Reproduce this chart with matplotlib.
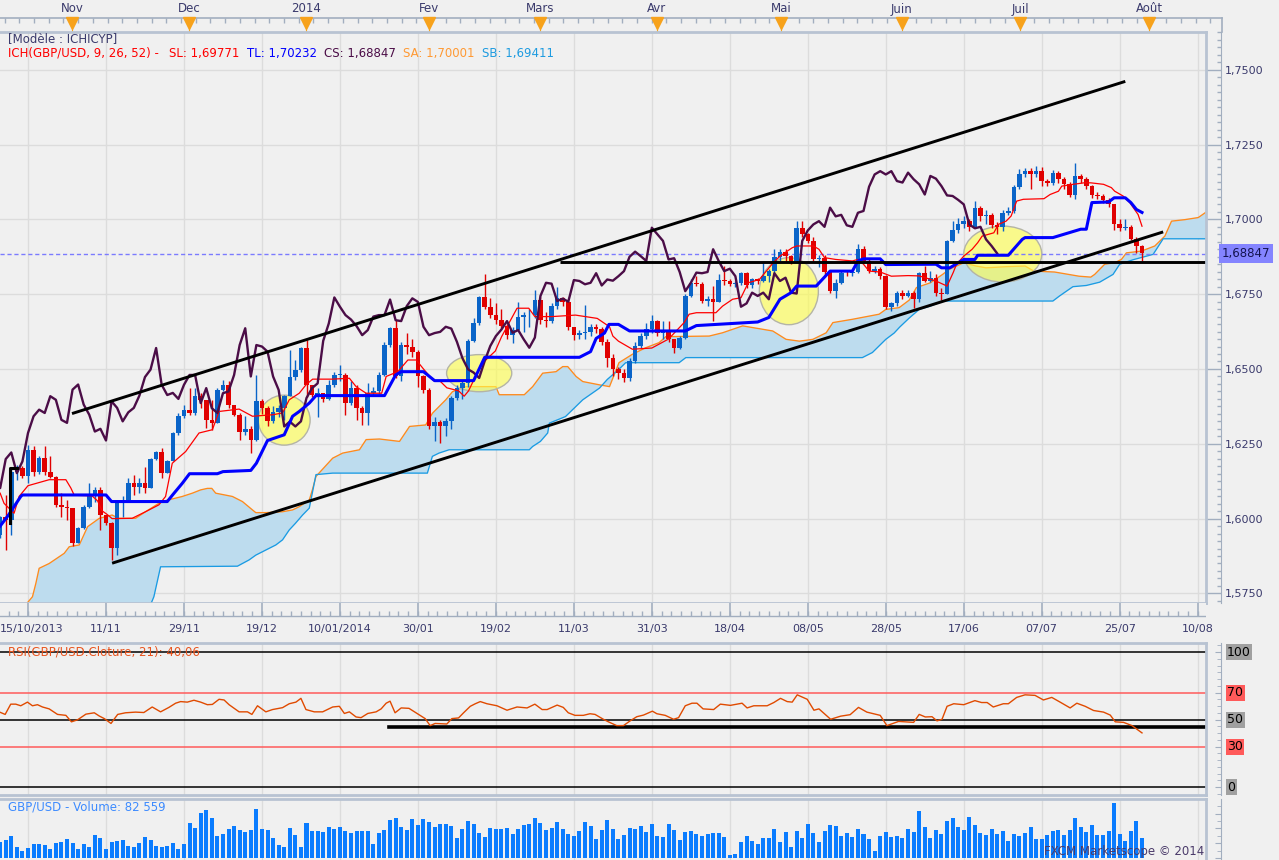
import numpy as np
import matplotlib
matplotlib.use("Agg")
import matplotlib.pyplot as plt
from matplotlib.patches import Ellipse
from matplotlib.ticker import MultipleLocator

plt.rcParams['font.family'] = ['DejaVu Sans']

# ---------------- data ----------------
# bar index 0 = first date grid line, 14 daily bars between date labels
first_bar = -5
first_open = 1.5945

close = [
    1.6007, 1.5996, 1.6157, 1.6169, 1.6143, 1.6230, 1.6157, 1.6202, 1.6157, 1.6139,
    1.6046, 1.6038, 1.6035, 1.5917, 1.5968, 1.6040, 1.6074, 1.6096, 1.6012, 1.5985,
    1.5901, 1.6057, 1.6062, 1.6118, 1.6107, 1.6118, 1.6102, 1.6199, 1.6221, 1.6152,
    1.6191, 1.6286, 1.6342, 1.6364, 1.6353, 1.6409, 1.6397, 1.6330, 1.6320, 1.6431,
    1.6448, 1.6381, 1.6347, 1.6291, 1.6300, 1.6261, 1.6392, 1.6370, 1.6325, 1.6355,
    1.6370, 1.6411, 1.6473, 1.6498, 1.6570, 1.6447, 1.6413, 1.6420, 1.6400, 1.6447,
    1.6480, 1.6480, 1.6386, 1.6436, 1.6369, 1.6353, 1.6419, 1.6425, 1.6480, 1.6580,
    1.6636, 1.6475, 1.6580, 1.6575, 1.6558, 1.6475, 1.6430, 1.6308, 1.6324, 1.6308,
    1.6325, 1.6403, 1.6436, 1.6452, 1.6594, 1.6652, 1.6739, 1.6708, 1.6680, 1.6665,
    1.6643, 1.6613, 1.6630, 1.6675, 1.6680, 1.6680, 1.6732, 1.6663, 1.6660, 1.6710,
    1.6736, 1.6724, 1.6641, 1.6613, 1.6620, 1.6624, 1.6641, 1.6635, 1.6591, 1.6536,
    1.6499, 1.6488, 1.6470, 1.6527, 1.6577, 1.6610, 1.6632, 1.6660, 1.6621, 1.6630,
    1.6599, 1.6571, 1.6605, 1.6744, 1.6788, 1.6785, 1.6727, 1.6735, 1.6725, 1.6797,
    1.6794, 1.6783, 1.6788, 1.6820, 1.6779, 1.6799, 1.6795, 1.6810, 1.6827, 1.6875,
    1.6892, 1.6877, 1.6861, 1.6972, 1.6950, 1.6928, 1.6866, 1.6870, 1.6824, 1.6760,
    1.6788, 1.6822, 1.6820, 1.6824, 1.6900, 1.6861, 1.6827, 1.6835, 1.6810, 1.6708,
    1.6719, 1.6755, 1.6744, 1.6755, 1.6733, 1.6820, 1.6794, 1.6805, 1.6755, 1.6752,
    1.6928, 1.6963, 1.6983, 1.6994, 1.6975, 1.7039, 1.7010, 1.7015, 1.6980, 1.6975,
    1.7022, 1.7028, 1.7109, 1.7150, 1.7161, 1.7150, 1.7161, 1.7128, 1.7123, 1.7156,
    1.7134, 1.7117, 1.7083, 1.7145, 1.7136, 1.7111, 1.7080, 1.7078, 1.7065, 1.7050,
    1.6983, 1.6970, 1.6975, 1.6933, 1.6911, 1.6886,
]
high = [
    1.6010, 1.6079, 1.6165, 1.6180, 1.6175, 1.6247, 1.6243, 1.6210, 1.6241, 1.6208,
    1.6141, 1.6085, 1.6062, 1.6035, 1.5973, 1.6046, 1.6118, 1.6107, 1.6107, 1.6012,
    1.5990, 1.6062, 1.6074, 1.6135, 1.6146, 1.6135, 1.6174, 1.6202, 1.6225, 1.6236,
    1.6197, 1.6290, 1.6353, 1.6381, 1.6436, 1.6436, 1.6420, 1.6397, 1.6397, 1.6436,
    1.6464, 1.6459, 1.6381, 1.6353, 1.6342, 1.6308, 1.6481, 1.6400, 1.6375, 1.6375,
    1.6380, 1.6414, 1.6565, 1.6531, 1.6575, 1.6598, 1.6447, 1.6435, 1.6420, 1.6463,
    1.6491, 1.6513, 1.6486, 1.6460, 1.6447, 1.6375, 1.6452, 1.6440, 1.6491, 1.6591,
    1.6641, 1.6663, 1.6590, 1.6619, 1.6600, 1.6564, 1.6480, 1.6436, 1.6341, 1.6330,
    1.6335, 1.6410, 1.6445, 1.6460, 1.6600, 1.6669, 1.6743, 1.6819, 1.6736, 1.6720,
    1.6700, 1.6650, 1.6640, 1.6725, 1.6690, 1.6700, 1.6763, 1.6740, 1.6690, 1.6720,
    1.6775, 1.6740, 1.6730, 1.6640, 1.6630, 1.6713, 1.6650, 1.6650, 1.6640, 1.6600,
    1.6550, 1.6505, 1.6500, 1.6535, 1.6590, 1.6620, 1.6655, 1.6682, 1.6665, 1.6660,
    1.6660, 1.6600, 1.6610, 1.6750, 1.6799, 1.6810, 1.6790, 1.6745, 1.6777, 1.6816,
    1.6844, 1.6800, 1.6795, 1.6825, 1.6825, 1.6805, 1.6805, 1.6855, 1.6835, 1.6900,
    1.6900, 1.6900, 1.6880, 1.6994, 1.6994, 1.6955, 1.6940, 1.6880, 1.6880, 1.6830,
    1.6800, 1.6830, 1.6830, 1.6830, 1.6919, 1.6910, 1.6870, 1.6845, 1.6840, 1.6815,
    1.6725, 1.6760, 1.6765, 1.6765, 1.6760, 1.6825, 1.6844, 1.6827, 1.6816, 1.6770,
    1.6930, 1.6994, 1.7005, 1.7010, 1.7000, 1.7061, 1.7045, 1.7030, 1.7020, 1.6990,
    1.7030, 1.7040, 1.7115, 1.7167, 1.7173, 1.7173, 1.7178, 1.7175, 1.7135, 1.7165,
    1.7161, 1.7140, 1.7125, 1.7189, 1.7150, 1.7140, 1.7115, 1.7090, 1.7085, 1.7070,
    1.7050, 1.7000, 1.7000, 1.6980, 1.6940, 1.6914,
]
low = [
    1.5935, 1.5895, 1.5945, 1.6130, 1.6135, 1.6118, 1.6143, 1.6150, 1.6146, 1.6135,
    1.6040, 1.6007, 1.5996, 1.5910, 1.5917, 1.5965, 1.6035, 1.6057, 1.5962, 1.5980,
    1.5862, 1.5878, 1.6007, 1.6062, 1.6079, 1.6085, 1.6085, 1.6102, 1.6197, 1.6135,
    1.6152, 1.6208, 1.6280, 1.6336, 1.6347, 1.6347, 1.6370, 1.6302, 1.6297, 1.6330,
    1.6425, 1.6370, 1.6342, 1.6264, 1.6280, 1.6219, 1.6258, 1.6350, 1.6310, 1.6320,
    1.6340, 1.6330, 1.6411, 1.6464, 1.6490, 1.6408, 1.6405, 1.6340, 1.6390, 1.6397,
    1.6441, 1.6460, 1.6347, 1.6380, 1.6330, 1.6314, 1.6314, 1.6410, 1.6415, 1.6475,
    1.6575, 1.6470, 1.6460, 1.6550, 1.6540, 1.6441, 1.6420, 1.6300, 1.6258, 1.6254,
    1.6275, 1.6300, 1.6395, 1.6400, 1.6440, 1.6590, 1.6647, 1.6700, 1.6670, 1.6650,
    1.6636, 1.6600, 1.6586, 1.6640, 1.6625, 1.6640, 1.6670, 1.6650, 1.6640, 1.6655,
    1.6700, 1.6710, 1.6630, 1.6597, 1.6600, 1.6600, 1.6610, 1.6620, 1.6580, 1.6508,
    1.6476, 1.6465, 1.6455, 1.6460, 1.6520, 1.6570, 1.6600, 1.6620, 1.6610, 1.6600,
    1.6590, 1.6554, 1.6566, 1.6600, 1.6740, 1.6778, 1.6721, 1.6710, 1.6660, 1.6725,
    1.6780, 1.6777, 1.6775, 1.6780, 1.6770, 1.6770, 1.6785, 1.6790, 1.6790, 1.6820,
    1.6860, 1.6860, 1.6850, 1.6855, 1.6940, 1.6920, 1.6860, 1.6840, 1.6810, 1.6754,
    1.6738, 1.6785, 1.6810, 1.6810, 1.6820, 1.6855, 1.6820, 1.6820, 1.6800, 1.6700,
    1.6694, 1.6710, 1.6735, 1.6740, 1.6705, 1.6725, 1.6790, 1.6790, 1.6745, 1.6730,
    1.6750, 1.6925, 1.6955, 1.6970, 1.6960, 1.6975, 1.6995, 1.6985, 1.6970, 1.6950,
    1.6960, 1.7015, 1.7020, 1.7100, 1.7140, 1.7100, 1.7140, 1.7111, 1.7110, 1.7115,
    1.7120, 1.7100, 1.7075, 1.7067, 1.7120, 1.7100, 1.7070, 1.7067, 1.7055, 1.7040,
    1.6966, 1.6960, 1.6965, 1.6930, 1.6888, 1.6861,
]
# volume in thousands
volume = [
    63, 74, 88, 43, 30, 42, 55, 58, 54, 38, 62, 66, 78, 62, 38, 58, 46, 95, 82, 38,
    66, 70, 74, 50, 46, 62, 86, 74, 50, 46, 50, 62, 38, 58, 143, 123, 184, 196, 163, 90,
    99, 119, 131, 115, 107, 115, 200, 119, 115, 82, 54, 46, 123, 95, 46, 143, 111, 111, 107, 127,
    119, 127, 111, 103, 111, 111, 111, 58, 103, 115, 155, 163, 127, 115, 159, 135,
    159, 147, 127, 139, 139, 131, 82, 119, 151, 139, 103, 86, 123, 119, 119, 123, 99, 119, 135, 139,
    163, 143, 115, 123, 147, 119, 99, 90, 111, 147, 131, 78, 115, 155, 119, 78, 95, 123, 119, 131,
    107, 139, 90, 86, 139, 115, 74, 107, 111, 99, 90, 99, 103, 103, 86, 11, 18, 66, 90, 70,
    58, 82, 82, 119, 66, 107, 46, 111, 82, 139, 103, 66, 111, 135, 131,
    90, 103, 86, 119, 99, 78, 30, 90, 107, 86, 90, 82, 119, 107, 192, 127, 82, 115, 99, 151,
    163, 127, 115, 167, 135, 103, 95, 119, 99, 111, 70, 99, 90, 103, 127, 78, 78, 95, 111, 115,
    95, 115, 163, 127, 107, 135, 95, 95, 111, 224, 99, 70, 111, 151, 82.6,
]

tenkan = [
    (-5, 1.6085), (-4.3, 1.6051), (-2.5, 1.6018), (-1.6, 1.6074), (0, 1.6110), (3.8, 1.6130),
    (6.8, 1.6130), (7.7, 1.6102), (8.3, 1.6078), (11.5, 1.6076), (12.5, 1.6059), (13.3, 1.6026),
    (14.2, 1.6014), (15.1, 1.6000), (18.7, 1.6001), (21.1, 1.6023), (23.5, 1.6046), (24.7, 1.6074),
    (25.9, 1.6185), (28.3, 1.6224), (30.7, 1.6286), (33.1, 1.6297), (34.3, 1.6358), (37.9, 1.6366),
    (40.3, 1.6342), (43.9, 1.6347), (45.7, 1.6353), (46.9, 1.6397), (48.7, 1.6419), (49.9, 1.6447),
    (51.1, 1.6466), (54.6, 1.6466), (57.7, 1.6469), (58.9, 1.6441), (60.7, 1.6419), (63.5, 1.6419),
    (64.3, 1.6475), (66.4, 1.6491), (68.2, 1.6530), (69.7, 1.6530), (71, 1.6500), (72.8, 1.6461),
    (74, 1.6459), (75.2, 1.6437), (77.3, 1.6427), (78.3, 1.6409), (79.1, 1.6427), (80, 1.6462),
    (81.5, 1.6518), (83.9, 1.6560), (85, 1.6607), (87.8, 1.6703), (89.9, 1.6703), (91, 1.6675),
    (94, 1.6675), (98.3, 1.6680), (102.2, 1.6669), (104.4, 1.6641), (105, 1.6610), (106, 1.6593),
    (108.5, 1.6566), (112, 1.6570), (115, 1.6600), (117.8, 1.6655), (118.7, 1.6683), (120, 1.6688),
    (123.5, 1.6688), (124.7, 1.6710), (126.5, 1.6733), (128, 1.6738), (129.3, 1.6788), (131.3, 1.6799),
    (133.8, 1.6855), (135, 1.6877), (137.2, 1.6905), (138, 1.6911), (141, 1.6911), (142, 1.6900),
    (143, 1.6872), (145, 1.6866), (148, 1.6861), (149, 1.6866), (150, 1.6850), (151, 1.6827),
    (153, 1.6824), (155, 1.6810), (158, 1.6812), (160, 1.6811), (163, 1.6794), (165, 1.6777),
    (166.1, 1.6822), (166.7, 1.6850), (168, 1.6877), (169.5, 1.6900), (170.5, 1.6922), (171.3, 1.6944),
    (173.4, 1.6955), (174.2, 1.6983), (175.6, 1.6994), (176.5, 1.7011), (177.5, 1.7061), (178.7, 1.7067),
    (182.4, 1.7069), (183.5, 1.7083), (185, 1.7094), (185.6, 1.7111), (187.6, 1.7117), (189.6, 1.7122),
    (190.8, 1.7122), (193.1, 1.7117), (194.5, 1.7106), (195.1, 1.7094), (196.6, 1.7078), (197.8, 1.7056),
    (199.3, 1.7016), (200, 1.6977),
]
kijun = [
    (-5, 1.5975), (-3.5, 1.6012), (-1.3, 1.6074), (-1, 1.6079), (14, 1.6079), (15, 1.6057),
    (25, 1.6057), (26, 1.6080), (27.7, 1.6118), (29, 1.6150), (34, 1.6150), (35, 1.6157),
    (40, 1.6161), (41, 1.6185), (43, 1.6261), (46, 1.6280), (47.5, 1.6342), (48.7, 1.6358),
    (50.5, 1.6386), (51.7, 1.6411), (64, 1.6411), (66, 1.6480), (67, 1.6491), (71, 1.6491),
    (73, 1.6461), (80, 1.6461), (82, 1.6539), (99, 1.6539), (101, 1.6558), (102, 1.6602),
    (103.5, 1.6620), (104.3, 1.6649), (106, 1.6649), (108, 1.6627), (118, 1.6627), (120, 1.6645),
    (131, 1.6657), (133, 1.6672), (135, 1.6733), (137, 1.6755), (138, 1.6777), (141.5, 1.6777),
    (144, 1.6827), (148, 1.6827), (149, 1.6861), (150, 1.6868), (153, 1.6868), (154, 1.6849),
    (163, 1.6850), (164, 1.6838), (165.5, 1.6838), (167, 1.6855), (168, 1.6866), (170, 1.6866),
    (170.5, 1.6880), (176, 1.6880), (178.5, 1.6933), (179, 1.6939), (184, 1.6939), (189, 1.6967),
    (190, 1.6967), (191, 1.7056), (194, 1.7058), (195, 1.7072), (197, 1.7072), (198, 1.7056),
    (199, 1.7033), (200, 1.7023),
]
senkou_a = [
    (-5, 1.5650), (-0.5, 1.5650), (-0.1, 1.5719), (0.8, 1.5739), (1.4, 1.5783), (2, 1.5834),
    (3.8, 1.5850), (6.5, 1.5884), (7.4, 1.5906), (9.2, 1.5912), (10.7, 1.5973), (12.8, 1.6001),
    (15.1, 1.6012), (16.3, 1.6001), (19.3, 1.6001), (21.1, 1.6023), (24, 1.6057), (27.7, 1.6074),
    (29.5, 1.6085), (31, 1.6096), (32.2, 1.6101), (33, 1.6101), (33.7, 1.6085), (36.7, 1.6074),
    (38.5, 1.6057), (40.3, 1.6029), (40.9, 1.6020), (42.7, 1.6020), (45.7, 1.6023), (47.5, 1.6029),
    (48.7, 1.6040), (50.5, 1.6062), (51.1, 1.6099), (51.7, 1.6141), (54.7, 1.6202), (56.5, 1.6219),
    (59.5, 1.6230), (60.7, 1.6264), (63.1, 1.6266), (66.7, 1.6258), (68.5, 1.6308), (71.4, 1.6313),
    (72.6, 1.6352), (75, 1.6397), (76.2, 1.6424), (78.6, 1.6441), (84, 1.6441), (84.6, 1.6414),
    (89.1, 1.6414), (90.6, 1.6441), (92.4, 1.6486), (94.8, 1.6491), (96, 1.6508), (96.9, 1.6508),
    (98.4, 1.6475), (99.6, 1.6458), (102.6, 1.6447), (104.4, 1.6441), (106.1, 1.6521), (108.5, 1.6549),
    (110.9, 1.6571), (113.3, 1.6588), (114.5, 1.6608), (122.3, 1.6610), (124.7, 1.6621), (128.3, 1.6644),
    (133.7, 1.6627), (136.1, 1.6599), (138.5, 1.6593), (140.9, 1.6599), (143.3, 1.6621), (144.5, 1.6655),
    (148, 1.6666), (152.8, 1.6683), (154, 1.6699), (156.4, 1.6705), (158.2, 1.6730), (159.5, 1.6772),
    (162, 1.6788), (164.2, 1.6816), (165.4, 1.6833), (168, 1.6855), (170.2, 1.6844), (172, 1.6838),
    (175.8, 1.6842), (179, 1.6844), (180.6, 1.6827), (184.3, 1.6824), (188.7, 1.6810), (190.8, 1.6807),
    (191.5, 1.6816), (193.3, 1.6850), (195.1, 1.6855), (196.3, 1.6866), (197.2, 1.6888), (199.9, 1.6894),
    (202.3, 1.6911), (204.1, 1.6944), (205.3, 1.6994), (207.7, 1.6999), (210.1, 1.7006), (211.8, 1.7028),
]
senkou_b = [
    (-5, 1.5600), (20, 1.5600), (20.5, 1.5712), (22, 1.5712), (22.6, 1.5739), (23.8, 1.5839),
    (37.6, 1.5841), (39.7, 1.5862), (40.9, 1.5878), (42.7, 1.5895), (44.5, 1.5912), (45.7, 1.5929),
    (46.9, 1.5962), (48, 1.5984), (49.3, 1.6012), (50.5, 1.6035), (51.2, 1.6100), (51.7, 1.6147),
    (54.7, 1.6152), (71.7, 1.6152), (72.6, 1.6208), (73.8, 1.6219), (75.6, 1.6230), (90, 1.6230),
    (90.6, 1.6241), (92, 1.6258), (93.3, 1.6286), (93.6, 1.6319), (96.5, 1.6341), (99.6, 1.6397),
    (102.6, 1.6436), (104, 1.6465), (106.1, 1.6499), (107.3, 1.6521), (116.9, 1.6521), (118.1, 1.6538),
    (149.8, 1.6538), (151.6, 1.6555), (152.8, 1.6577), (154, 1.6599), (155.5, 1.6620), (156.5, 1.6640),
    (158.2, 1.6670), (160, 1.6699), (162, 1.6710), (164.3, 1.6727), (184, 1.6727), (185.2, 1.6744),
    (187.6, 1.6775), (190, 1.6779), (192.4, 1.6790), (194.8, 1.6816), (196, 1.6850), (198.4, 1.6865),
    (200.8, 1.6877), (202, 1.6883), (203.8, 1.6935), (211.8, 1.6935),
]
rsi = [
    (-5.2, 55.7), (-4.1, 53.8), (-3.1, 61.4), (-2.2, 61.4), (-1.3, 60.2), (-0.1, 62.9), (0.8, 60.2),
    (1.7, 61), (2.6, 59.3), (3.8, 57.9), (5.3, 53.8), (6.8, 53.1), (7.8, 48.3), (8.9, 49.8),
    (10.4, 54), (11.9, 55), (12.8, 52.6), (13.7, 50.7), (14.9, 47.1), (16.1, 53.8), (17.5, 55),
    (19.3, 55.5), (20.8, 55.2), (22.3, 59.3), (23.8, 55.7), (25.3, 59), (26.5, 62.1), (27.4, 63.3),
    (28.6, 62.9), (29.8, 64.3), (31, 62.9), (32.2, 61), (33.1, 61.2), (34.3, 65), (35.2, 64.5),
    (36.1, 61), (37.9, 55.7), (39.4, 55.7), (40.2, 53.8), (41.2, 60.2), (42.7, 55.7), (43.9, 57.4),
    (45.7, 58.8), (46.9, 61.7), (48.1, 62.9), (49, 65.7), (49.9, 57.4), (51.4, 55.7), (52.9, 55.7),
    (54.7, 59.3), (55.9, 59.8), (56.8, 54.5), (57.7, 55.7), (58.9, 51.9), (59.8, 51.4), (61, 54.5),
    (62.5, 55.7), (63.4, 57.9), (64.3, 62.1), (65, 63.6), (65.9, 55), (67, 58.6), (68.4, 58.3),
    (69.4, 55.7), (70.4, 53.1), (71.3, 50.7), (72.2, 45.5), (73.1, 47.1), (75.2, 46.7), (76.1, 50.7),
    (77.3, 51.2), (78.2, 55), (79.4, 59.8), (80.3, 61.7), (81.2, 63.3), (82.4, 61.7), (84.2, 60.2),
    (86, 56.9), (87.8, 59.3), (89.6, 58.6), (91, 61.4), (92.3, 57.4), (93.2, 57.4), (95, 60.7),
    (96.1, 59), (97, 55), (98.2, 53.1), (99.7, 53.1), (100.9, 54.3), (101.8, 53.8), (103.3, 50.2),
    (104.2, 48.3), (105.7, 45.5), (106.9, 45.5), (108.1, 49), (109.3, 52.1), (110.5, 53.3),
    (112.1, 56.2), (112.9, 54.3), (114.4, 53.1), (115.9, 50.2), (116.8, 51.4), (118, 60.2),
    (119.2, 62.1), (120.1, 62.1), (121.2, 57.9), (123.1, 57.4), (124.3, 61.4), (126.1, 60.5),
    (128.2, 62.1), (129.1, 58.6), (130.3, 60.2), (132.7, 60.2), (133.9, 62.6), (135.1, 65.7),
    (136.3, 63.3), (137.2, 62.9), (138.1, 68.3), (139.9, 65), (141.1, 56.9), (142, 57.9),
    (144.1, 50.2), (145.9, 52.5), (147.6, 53.6), (149.1, 59), (150.6, 55.5), (151.8, 54.3),
    (153, 53.1), (154.2, 45.5), (156.3, 48.6), (159, 47.9), (160, 53.8), (161.1, 51.9), (162.3, 52.1),
    (163.2, 49), (164.1, 50.2), (165, 59.8), (166.2, 61.7), (168, 61), (170, 64), (171.2, 62.6),
    (172.2, 62.6), (173.3, 59.3), (175.1, 61.7), (176, 61.7), (177.5, 66.4), (179, 68.3), (180.8, 67.9),
    (182.3, 64.5), (183.8, 66.4), (185.3, 62.9), (187.1, 58.6), (188.3, 62.1), (189.8, 59.8),
    (191.3, 56.7), (193.1, 55.5), (194.3, 53.3), (195.2, 48.3), (196.7, 47.9), (198.2, 45.5), (200, 40.1),
]

# hand-drawn annotations on the chart (bar, price)
channel_top = [(7.9, 1.6351), (197, 1.7461)]
channel_bottom = [(15.1, 1.5851), (203.8, 1.6958)]
support_line = [(95.5, 1.6857), (211.5, 1.6857)]
left_mark = [(-3.2, 1.5985), (-3.2, 1.6169), (-2.0, 1.6169)]
rsi_support = [(64.8, 44.5), (211.5, 44.5)]
ellipse_x = [46, 81, 136.6, 175]
ellipse_y = [1.6329, 1.6486, 1.6760, 1.6884]
ellipse_w = [9.3, 11.7, 10.6, 14.0]
ellipse_h = [0.0167, 0.0124, 0.0224, 0.0187]
last_price = 1.68847

date_labels = ['15/10/2013', '11/11', '29/11', '19/12', '10/01/2014', '30/01', '19/02', '11/03',
               '31/03', '18/04', '08/05', '28/05', '17/06', '07/07', '25/07', '10/08']
month_labels = ['Nov', 'Dec', '2014', 'Fev', 'Mars', 'Avr', 'Mai', 'Juin', 'Juil', 'Août']
month_pos = [7.9, 28.9, 49.9, 72.0, 91.9, 112.9, 135.2, 156.9, 178.1, 201.3]
price_ticks = [1.575, 1.600, 1.625, 1.650, 1.675, 1.700, 1.725, 1.750]
rsi_levels = [100, 70, 50, 30, 0]

# ---------------- styling ----------------
W, H = 1279, 860
BG = '#f0f0f0'
GRID = '#dcdcdc'
FRAME = '#b8c3d2'
AXIS = '#a2aebf'
TXT = '#3a3a6c'
BULL = '#0a64c8'
BEAR = '#e00000'
CLOUD = '#bddcee'

BAR_PX = 5.57
X0_PX = 28
XLIM = (-X0_PX / BAR_PX, (1206 - X0_PX) / BAR_PX)
SPINE_R = 1221 / 1206
PX = 0.72  # points per pixel

fig = plt.figure(figsize=(W / 100, H / 100), dpi=100, facecolor=BG)


def box(x0, y0, x1, y1):
    return [x0 / W, 1 - y1 / H, (x1 - x0) / W, (y1 - y0) / H]


ax_head = fig.add_axes(box(0, 0, 1206, 32))
ax = fig.add_axes(box(0, 32, 1206, 603))
ax_date = fig.add_axes(box(0, 603, 1206, 641))
ax_rsi = fig.add_axes(box(0, 643, 1206, 795))
ax_vol = fig.add_axes(box(0, 799, 1206, 860))

for a in (ax_head, ax, ax_date, ax_rsi, ax_vol):
    a.set_facecolor(BG)
    a.set_xlim(*XLIM)
    for s in a.spines.values():
        s.set_visible(False)
    a.tick_params(which='both', left=False, labelleft=False, bottom=False, labelbottom=False)

date_pos = np.arange(len(date_labels)) * 14

# ---- month header ----
ax_head.set_ylim(32, 0)
x_end = (1222 - X0_PX) / BAR_PX
ax_head.plot([XLIM[0], x_end], [18, 18], color=AXIS, lw=1.2, clip_on=False)
ax_head.plot([x_end, x_end], [18, 32], color=AXIS, lw=1.2, clip_on=False)
ax_head.vlines(np.arange(-4.2, 213, 2.64), 18, 23, color=AXIS, lw=1, clip_on=False)
ax_head.vlines(month_pos, 18, 32, color='#f5a31c', lw=0.8)
ax_head.plot(month_pos, [23] * len(month_pos), ls='none', marker='v', ms=8,
             color='#f7a21b', mec='#f7a21b')
for p, name in zip(month_pos, month_labels):
    ax_head.text(p, 9, name, ha='center', va='center', color=TXT, fontsize=8.5)

# ---- main price panel ----
ax.set_ylim(1.5718, 1.7626)
for p in price_ticks:
    ax.axhline(p, color=GRID, lw=1, zorder=0)
for xv in date_pos:
    ax.axvline(xv, color=GRID, lw=1, zorder=0)

sa = np.array(senkou_a)
sb = np.array(senkou_b)
ax.fill(np.r_[sa[:, 0], sb[::-1, 0]], np.r_[sa[:, 1], sb[::-1, 1]], color=CLOUD, lw=0, zorder=1)
ax.plot(sa[:, 0], sa[:, 1], color='#ff8a1c', lw=0.95, zorder=2)
ax.plot(sb[:, 0], sb[:, 1], color='#1a9be3', lw=0.95, zorder=2)

for ex, ey, ew, eh in zip(ellipse_x, ellipse_y, ellipse_w, ellipse_h):
    ax.add_patch(Ellipse((ex, ey), ew, eh, facecolor=(1, 1, 0.3, 0.62),
                         edgecolor='#b4b4a6', lw=1, zorder=2.5))

ax.axhline(last_price, color='#7b7bff', lw=1, ls=(0, (3, 2)), zorder=2.6)

bars = np.arange(first_bar, first_bar + len(close))
c = np.array(close)
o = np.r_[first_open, c[:-1]]
hi = np.maximum(np.array(high), np.maximum(o, c))
lo = np.minimum(np.array(low), np.minimum(o, c))
col = np.where(c >= o, BULL, BEAR)
ax.vlines(bars, lo, hi, colors=col, lw=1, zorder=3)
ax.bar(bars, np.maximum(np.abs(c - o), 0.00018), bottom=np.minimum(o, c), width=0.82,
       color=col, lw=0, zorder=3.5)

tk = np.array(tenkan)
kj = np.array(kijun)
ax.plot(tk[:, 0], tk[:, 1], color='#ff0000', lw=0.9, zorder=4)
ax.plot(kj[:, 0], kj[:, 1], color='#0000ff', lw=2.2, zorder=4.2)
ax.plot(bars - 26, c, color='#4b0d47', lw=1.7, zorder=4.1)

for line in (channel_top, channel_bottom, support_line):
    ln = np.array(line)
    ax.plot(ln[:, 0], ln[:, 1], color='black', lw=2.1, zorder=5, solid_capstyle='butt')
lm = np.array(left_mark)
ax.plot(lm[:, 0], lm[:, 1], color='black', lw=2.2, zorder=5)

ax.spines['right'].set_visible(True)
ax.spines['right'].set_position(('axes', SPINE_R))
ax.spines['right'].set_color(AXIS)
ax.set_yticks(price_ticks)
ax.set_yticklabels([f"{p:.4f}".replace('.', ',') for p in price_ticks])
ax.yaxis.set_minor_locator(MultipleLocator(0.0025))
ax.tick_params(axis='y', which='both', right=True, labelright=True, direction='in',
               colors=AXIS, labelcolor=TXT, labelsize=8, pad=3)
ax.tick_params(axis='y', which='major', length=15 * PX, width=1)
ax.tick_params(axis='y', which='minor', length=4 * PX, width=1)
ax.text(1222 / 1206, last_price, f"{last_price:.5f}".replace('.', ','),
        transform=ax.get_yaxis_transform(), ha='left', va='center', fontsize=8.5,
        color='#141450', zorder=10,
        bbox=dict(boxstyle='square,pad=0.25', fc='#8484ff', ec='none'))
for xs, ys in (([1, 1], [0, 1]), ([0, 1], [1, 1]), ([0, 1], [0, 0])):
    ax.plot(xs, ys, transform=ax.transAxes, color=FRAME, lw=2, clip_on=False, zorder=6)

# ---- date strip ----
ax_date.set_ylim(641, 603)
ax_date.plot(XLIM, [616, 616], color=AXIS, lw=1)
ax_date.vlines(date_pos, 603, 616, color=AXIS, lw=1.2)
ax_date.vlines(np.arange(-5.25, 211, 1.75), 611, 616, color=AXIS, lw=1)
for k, (xv, lab) in enumerate(zip(date_pos, date_labels)):
    if k == 0:
        ax_date.text(XLIM[0], 629, lab, ha='left', va='center', color=TXT, fontsize=8)
    else:
        ax_date.text(xv, 629, lab, ha='center', va='center', color=TXT, fontsize=8)

# ---- RSI panel ----
ax_rsi.set_ylim(-5.9, 106.7)
for xv in date_pos:
    ax_rsi.axvline(xv, color=GRID, lw=1, zorder=0)
for lv in rsi_levels:
    lc = '#ff5a5a' if lv in (70, 30) else 'black'
    ax_rsi.axhline(lv, color=lc, lw=1.1, zorder=1)
rs = np.array(rsi_support)
ax_rsi.plot(rs[:, 0], rs[:, 1], color='black', lw=2.6, zorder=2)
rv = np.array(rsi)
ax_rsi.plot(rv[:, 0], rv[:, 1], color='#e04a00', lw=1, zorder=3)
ax_rsi.spines['right'].set_visible(True)
ax_rsi.spines['right'].set_position(('axes', SPINE_R))
ax_rsi.spines['right'].set_color(AXIS)
ax_rsi.set_yticks(rsi_levels)
ax_rsi.yaxis.set_minor_locator(MultipleLocator(5))
ax_rsi.tick_params(axis='y', which='both', right=True, labelright=False, direction='in',
                   colors=AXIS)
ax_rsi.tick_params(axis='y', which='major', length=6 * PX)
ax_rsi.tick_params(axis='y', which='minor', length=4 * PX)
for lv in rsi_levels:
    fc = '#ff5a5a' if lv in (70, 30) else '#a0a0a0'
    ax_rsi.text(1227 / 1206, lv, str(lv), transform=ax_rsi.get_yaxis_transform(),
                ha='left', va='center', fontsize=9, color='black',
                bbox=dict(boxstyle='square,pad=0.12', fc=fc, ec='none'))
for xs, ys in (([1, 1], [0, 1]), ([0, 1], [1, 1]), ([0, 1], [0, 0])):
    ax_rsi.plot(xs, ys, transform=ax_rsi.transAxes, color=FRAME, lw=2, clip_on=False, zorder=6)

# ---- volume panel ----
ax_vol.set_ylim(-8, 239)
for xv in date_pos:
    ax_vol.axvline(xv, color=GRID, lw=1, zorder=0)
ax_vol.bar(bars, volume, width=0.72, color='#0a7cff', lw=0, zorder=2)
ax_vol.spines['right'].set_visible(True)
ax_vol.spines['right'].set_position(('axes', SPINE_R))
ax_vol.spines['right'].set_color(AXIS)
ax_vol.yaxis.set_major_locator(MultipleLocator(60))
ax_vol.yaxis.set_minor_locator(MultipleLocator(30))
ax_vol.tick_params(axis='y', which='both', right=True, labelright=False, direction='in',
                   colors=AXIS)
ax_vol.tick_params(axis='y', which='major', length=6 * PX)
ax_vol.tick_params(axis='y', which='minor', length=4 * PX)
for xs, ys in (([1, 1], [0, 1]), ([0, 1], [1, 1])):
    ax_vol.plot(xs, ys, transform=ax_vol.transAxes, color=FRAME, lw=2, clip_on=False, zorder=6)

# ---- texts ----
def ftext(x, y, s, color, size=8.5, **kw):
    fig.text(x / W, 1 - y / H, s, color=color, fontsize=size, va='center', ha='left', **kw)


ftext(8, 39, '[Modèle : ICHICYP]', TXT)
ftext(8, 53, 'ICH(GBP/USD, 9, 26, 52) -', '#ff0000')
ftext(169, 53, 'SL: 1,69771', '#ff0000')
ftext(247, 53, 'TL: 1,70232', '#0000ff')
ftext(324, 53, 'CS: 1,68847', '#4b0d47')
ftext(403, 53, 'SA: 1,70001', '#ff9933')
ftext(482, 53, 'SB: 1,69411', '#1e9be0')
ftext(8, 652, 'RSI(GBP/USD.Cloture, 21): 40,06', '#e8541e')
ftext(8, 807, 'GBP/USD - Volume: 82 559', '#3d8bff')
fig.text(1204 / W, 1 - 851 / H, 'FXCM Marketscope © 2014', color='#4a3a6a', fontsize=8.5,
         va='center', ha='right')

fig.savefig('out.png', dpi=100, facecolor=BG)
